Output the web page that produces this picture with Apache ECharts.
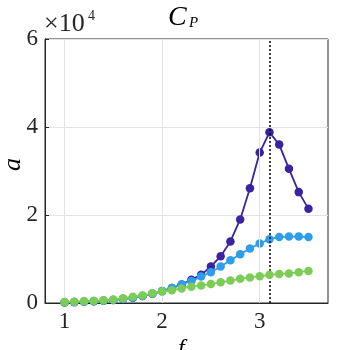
<!DOCTYPE html>
<html><head><meta charset="utf-8">
<script src="https://cdn.jsdelivr.net/npm/echarts@6/dist/echarts.min.js"></script>
<style>html,body{margin:0;padding:0;background:#fff}#c{width:363px;height:350px}</style>
</head><body><div id="c"></div>
<script>
const fValues = [1.0,1.1,1.2,1.3,1.4,1.5,1.6,1.7,1.8,1.9,2.0,2.1,2.2,2.3,2.4,2.5,2.6,2.7,2.8,2.9,3.0,3.1,3.2,3.3,3.4,3.5];
const purpleA = [0.01,0.02,0.03,0.04,0.05,0.07,0.09,0.12,0.16,0.21,0.27,0.34,0.42,0.53,0.64,0.83,1.06,1.40,1.90,2.61,3.42,3.88,3.60,3.05,2.52,2.14];
const blueA   = [0.01,0.02,0.03,0.04,0.05,0.07,0.09,0.12,0.16,0.21,0.27,0.34,0.42,0.50,0.60,0.70,0.83,0.97,1.11,1.24,1.35,1.45,1.50,1.51,1.51,1.50];
const greenA  = [0.02,0.03,0.04,0.05,0.065,0.08,0.11,0.14,0.17,0.22,0.26,0.29,0.33,0.37,0.40,0.43,0.47,0.51,0.55,0.58,0.61,0.64,0.66,0.67,0.70,0.73];
const xTicks = [1,2,3];
const yTicks = [0,2,4,6];
const peakF = 3.1;

const serif = 'Liberation Serif';
const mk = (ys) => fValues.map((x,i)=>[x, ys[i]]);
const chart = echarts.init(document.getElementById('c'));
const gridLineStyle = {color:'#e3e3e3', width:1, type:'solid'};
chart.setOption({
  animation:false,
  grid:{left:45, right:35, top:39, bottom:47, show:true, borderColor:'#262626', borderWidth:1},
  graphic:[
    {type:'text', x:168, y:4, style:{text:'C', fontFamily:serif, fontStyle:'italic', fontSize:28, fill:'#000'}},
    {type:'text', x:189, y:16, style:{text:'P', fontFamily:serif, fontStyle:'italic', fontSize:15, fill:'#000'}},
    {type:'text', x:44, y:11, style:{text:'×10', fontFamily:serif, fontSize:26, fill:'#262626'}},
    {type:'text', x:88, y:9, style:{text:'4', fontFamily:serif, fontSize:14, fill:'#262626'}},
    {type:'text', x:178, y:337, style:{text:'f', fontFamily:serif, fontStyle:'italic', fontSize:24, fill:'#000'}},
    {type:'text', x:0, y:171, rotation:Math.PI/2, style:{text:'a', fontFamily:serif, fontStyle:'italic', fontSize:26, fill:'#000'}}
  ],
  xAxis:{type:'value', min:0.8, max:3.7,
    axisLine:{show:true, lineStyle:{color:'#262626'}},
    axisTick:{show:true, inside:true, length:4, customValues:xTicks, lineStyle:{color:'#262626'}},
    axisLabel:{customValues:xTicks, fontFamily:serif, fontSize:23, color:'#262626', margin:7},
    splitLine:{show:false}},
  yAxis:{type:'value', min:0, max:6, interval:2,
    axisLine:{show:true, lineStyle:{color:'#262626'}},
    axisTick:{show:true, inside:true, length:4, lineStyle:{color:'#262626'}},
    axisLabel:{fontFamily:serif, fontSize:23, color:'#262626', margin:7},
    splitLine:{show:true, lineStyle:gridLineStyle}},
  series:[
    {type:'line', data:[], silent:true,
      markLine:{silent:true, symbol:'none', label:{show:false}, lineStyle:gridLineStyle,
        data: xTicks.map(v=>({xAxis:v}))}},
    {type:'line', data:mk(purpleA), symbol:'circle', symbolSize:8.5, itemStyle:{color:'#3b22a2'}, lineStyle:{color:'#3b22a2', width:1.8}, z:3},
    {type:'line', data:mk(blueA), symbol:'circle', symbolSize:8.5, itemStyle:{color:'#2e9eea'}, lineStyle:{color:'#2e9eea', width:1.8}, z:4},
    {type:'line', data:mk(greenA), symbol:'circle', symbolSize:8.5, itemStyle:{color:'#7ccd56'}, lineStyle:{color:'#7ccd56', width:1.8}, z:5,
      markLine:{silent:true, symbol:'none', label:{show:false}, lineStyle:{color:'#000', type:[2,2], width:1.5}, data:[{xAxis:peakF}]}}
  ]
});
</script></body></html>
